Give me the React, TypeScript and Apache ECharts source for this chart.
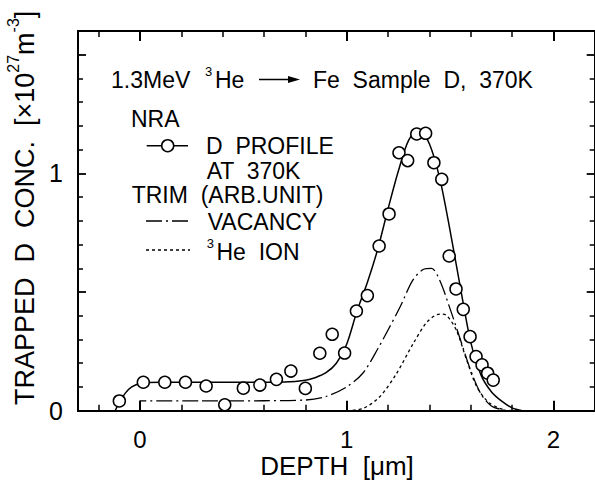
import React, { useEffect, useRef } from "react";
import * as echarts from "echarts";

// ---- axis ranges & ticks ----
const X_MIN = -0.3;
const X_MAX = 2.2;
const Y_MIN = 0;
const Y_MAX = 1.6;
const xMajorTicks = [0, 1, 2];
const xMinorTicks = [-0.2, 0.2, 0.4, 0.6, 0.8, 1.2, 1.4, 1.6, 1.8];
const xTickLabels = [0, 1, 2];
const yMajorTicks = [0, 0.5, 1, 1.5];
const yMinorTicks = [0.1, 0.2, 0.3, 0.4, 0.6, 0.7, 0.8, 0.9, 1.1, 1.2, 1.3, 1.4];
const yTickLabels = [0, 1];

// ---- NRA measured D profile at 370K (depth µm, conc ×1e27 m^-3) ----
const nraDepth = [
  -0.1, 0.016, 0.12, 0.22, 0.32, 0.41, 0.5, 0.58, 0.66, 0.73, 0.8, 0.87, 0.93, 0.99,
  1.047, 1.1, 1.157, 1.205, 1.253, 1.295, 1.339, 1.382, 1.422, 1.46, 1.496, 1.529,
  1.564, 1.597, 1.626, 1.655, 1.682, 1.709,
];
const nraConc = [
  0.041, 0.12, 0.12, 0.12, 0.104, 0.025, 0.095, 0.108, 0.132, 0.167, 0.094, 0.242, 0.322, 0.243,
  0.42, 0.485, 0.694, 0.829, 1.087, 1.054, 1.166, 1.169, 1.045, 0.975, 0.652, 0.513,
  0.427, 0.312, 0.228, 0.193, 0.158, 0.129,
];

// ---- fitted profile (solid) ----
const fitDepth = [
  -0.12, -0.1, -0.07, -0.04, 0, 0.1, 0.3, 0.5, 0.7, 0.8, 0.85, 0.9, 0.95, 1.0, 1.05, 1.1,
  1.15, 1.2, 1.25, 1.3, 1.35, 1.4, 1.45, 1.5, 1.55, 1.6, 1.65, 1.7, 1.75, 1.8, 1.85,
];
const fitConc = [
  0, 0.035, 0.075, 0.1, 0.115, 0.12, 0.12, 0.12, 0.121, 0.128, 0.14, 0.16, 0.2, 0.28, 0.42, 0.54,
  0.68, 0.85, 1.01, 1.14, 1.185, 1.125, 0.98, 0.76, 0.52, 0.29, 0.15, 0.08, 0.04, 0.012, 0,
];

// ---- TRIM vacancy (dash-dot): surface step, then profile ----
const vacStepDepth = [0, 0, 0.3];
const vacStepConc = [0, 0.041, 0.041];
const vacDepth = [
  0.3, 0.6, 0.8, 0.9, 1.0, 1.08, 1.15, 1.2, 1.26, 1.32, 1.37, 1.41, 1.45, 1.5, 1.55,
  1.6, 1.65, 1.7, 1.75, 1.8,
];
const vacConc = [
  0.041, 0.042, 0.045, 0.06, 0.1, 0.16, 0.26, 0.34, 0.44, 0.55, 0.595, 0.6, 0.55,
  0.43, 0.3, 0.17, 0.07, 0.02, 0.005, 0,
];

// ---- TRIM 3He ion (dotted) ----
const heDepth = [1.0, 1.08, 1.16, 1.24, 1.32, 1.39, 1.45, 1.48, 1.53, 1.58, 1.63, 1.69, 1.77];
const heConc = [0, 0.01, 0.059, 0.155, 0.28, 0.375, 0.407, 0.403, 0.34, 0.215, 0.1, 0.033, 0];

const FONT = "'Liberation Sans', Arial, Helvetica, sans-serif";
const BLACK = "#000";
const DASH_DOT = [16, 4, 2, 4];
const DOTTED = [3, 3];

const zip = (xs: number[], ys: number[]) => xs.map((x, i) => [x, ys[i]]);

function xAxis(pos: string, ticks: number[], len: number, w: number, labels?: number[]) {
  return {
    type: "value",
    gridIndex: 0,
    position: pos,
    min: X_MIN,
    max: X_MAX,
    axisLine: { show: true, onZero: false, lineStyle: { color: BLACK, width: 2 } },
    axisTick: { show: true, inside: true, length: len, customValues: ticks, lineStyle: { color: BLACK, width: w } },
    axisLabel: labels
      ? { show: true, customValues: labels, fontSize: 24, lineHeight: 24, color: BLACK, fontFamily: FONT, margin: 17 }
      : { show: false },
    splitLine: { show: false },
  };
}

function yAxis(pos: string, ticks: number[], len: number, w: number, labels?: number[]) {
  return {
    type: "value",
    gridIndex: 0,
    position: pos,
    min: Y_MIN,
    max: Y_MAX,
    axisLine: { show: true, onZero: false, lineStyle: { color: BLACK, width: 2 } },
    axisTick: { show: true, inside: true, length: len, customValues: ticks, lineStyle: { color: BLACK, width: w } },
    axisLabel: labels
      ? { show: true, customValues: labels, fontSize: 25, color: BLACK, fontFamily: FONT, margin: 15 }
      : { show: false },
    splitLine: { show: false },
  };
}

function txt(x: number, y: number, text: string, size = 23, extra: any = {}) {
  return {
    type: "text",
    x,
    y,
    silent: true,
    style: { text, fill: BLACK, fontSize: size, fontFamily: FONT, align: "left", verticalAlign: "middle", ...extra },
  };
}

function lineSeries(name: string, xs: number[], ys: number[], dash: any, width: number, smooth: number | boolean) {
  return {
    type: "line",
    name,
    data: zip(xs, ys),
    smooth,
    symbol: "none",
    silent: true,
    lineStyle: { color: BLACK, width, type: dash },
    z: 2,
  };
}

export default function App() {
  const ref = useRef<HTMLDivElement>(null);
  useEffect(() => {
    if (!ref.current) return;
    const chart = echarts.init(ref.current, undefined, { renderer: "svg" });
    const option: any = {
      animation: false,
      backgroundColor: "#fff",
      grid: {
        left: 78,
        top: 31,
        right: 0.3,
        bottom: 71.3,
        containLabel: false,
        outerBoundsMode: "none",
      },
      xAxis: [
        xAxis("bottom", xMajorTicks, 10, 2, xTickLabels),
        xAxis("bottom", xMinorTicks, 6, 1.5),
        xAxis("top", xMajorTicks, 10, 2),
        xAxis("top", xMinorTicks, 6, 1.5),
      ],
      yAxis: [
        yAxis("left", yMajorTicks, 8, 1.8, yTickLabels),
        yAxis("left", yMinorTicks, 5, 1.5),
        yAxis("right", yMajorTicks, 8, 1.8),
        yAxis("right", yMinorTicks, 5, 1.5),
      ],
      series: [
        lineSeries("fit", fitDepth, fitConc, "solid", 1.5, 0.3),
        lineSeries("VACANCY step", vacStepDepth, vacStepConc, DASH_DOT, 1.3, false),
        lineSeries("VACANCY", vacDepth, vacConc, DASH_DOT, 1.3, 0.3),
        lineSeries("3He ION", heDepth, heConc, DOTTED, 1.3, 0.3),
        {
          type: "scatter",
          name: "D PROFILE",
          data: zip(nraDepth, nraConc),
          symbol: "circle",
          symbolSize: 12,
          silent: true,
          itemStyle: { color: "#ffffff", opacity: 1, borderColor: BLACK, borderWidth: 1.5 },
          z: 5,
        },
      ],
      graphic: [
        // header
        txt(111, 79.5, "1.3MeV"),
        txt(205, 71, "3", 13),
        txt(215, 79.5, "He"),
        { type: "line", silent: true, shape: { x1: 259, y1: 79.5, x2: 292, y2: 79.5 }, style: { stroke: BLACK, lineWidth: 1.5 } },
        { type: "polygon", silent: true, shape: { points: [[288, 76], [300, 79.5], [288, 83]] }, style: { fill: BLACK } },
        txt(313, 79.5, "Fe  Sample  D,  370K"),
        // legend
        txt(131, 119, "NRA"),
        { type: "line", silent: true, shape: { x1: 146.7, y1: 145.7, x2: 188, y2: 145.7 }, style: { stroke: BLACK, lineWidth: 1.5 } },
        { type: "circle", silent: true, shape: { cx: 167.7, cy: 145.7, r: 6 }, style: { fill: "#fff", stroke: BLACK, lineWidth: 1.5 } },
        txt(206, 146, "D  PROFILE"),
        txt(206.7, 170.5, "AT  370K"),
        txt(131.7, 195, "TRIM  (ARB.UNIT)"),
        { type: "line", silent: true, shape: { x1: 146, y1: 221, x2: 190, y2: 221 }, style: { stroke: BLACK, lineWidth: 1.3, lineDash: DASH_DOT } },
        txt(207.7, 222, "VACANCY"),
        { type: "line", silent: true, shape: { x1: 146, y1: 250, x2: 190, y2: 250 }, style: { stroke: BLACK, lineWidth: 1.3, lineDash: DOTTED } },
        txt(206.7, 243.5, "3", 13),
        txt(216.5, 251.5, "He  ION"),
        // x-axis title
        txt(337, 466, "DEPTH  [μm]", 26, { align: "center" }),
        // y-axis title (rotated)
        {
          type: "text",
          x: 25,
          y: 405,
          rotation: Math.PI / 2,
          silent: true,
          style: {
            text: "{n|TRAPPED  D  CONC.  [×10}{s|27}{n|m}{s|-3}{n|]}",
            align: "left",
            verticalAlign: "middle",
            fill: BLACK,
            fontFamily: FONT,
            rich: {
              n: { fontSize: 27, lineHeight: 40, fontFamily: FONT, fill: BLACK },
              s: { fontSize: 16, lineHeight: 18, verticalAlign: "top", fontFamily: FONT, fill: BLACK },
            },
          },
        },
      ],
    };
    chart.setOption(option);
    return () => chart.dispose();
  }, []);
  return (
    <div
      ref={ref}
      style={{ position: "fixed", left: 0, top: 0, width: 595, height: 482, background: "#fff" }}
    />
  );
}
